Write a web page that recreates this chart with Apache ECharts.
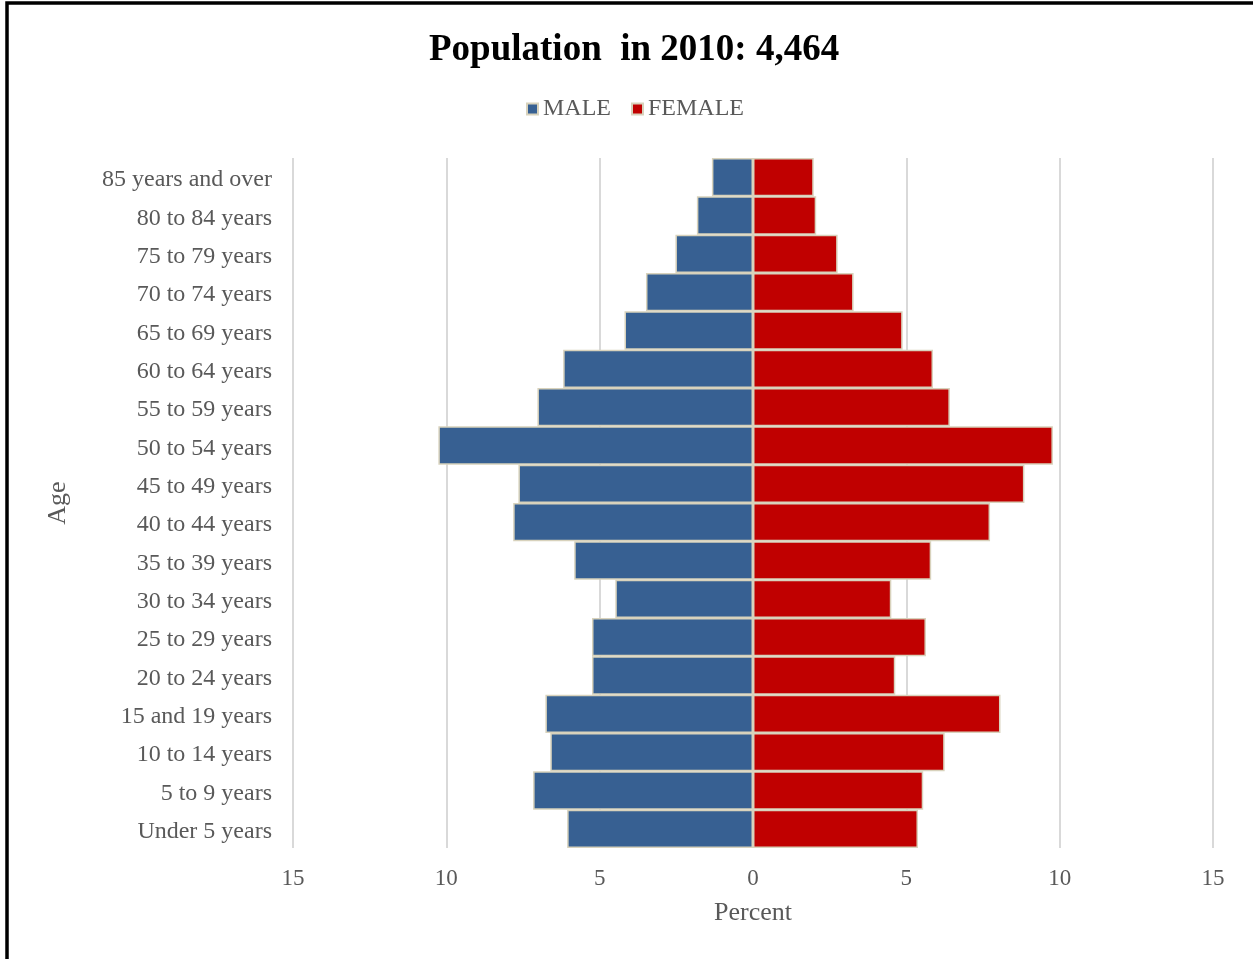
<!DOCTYPE html>
<html>
<head>
<meta charset="utf-8">
<title>Population in 2010</title>
<script src="https://cdn.jsdelivr.net/npm/echarts@6/dist/echarts.min.js"></script>
<style>
  html, body { margin: 0; padding: 0; background: #ffffff; }
  #chart { width: 1253px; height: 959px; }
</style>
</head>
<body>
<div id="chart"></div>
<script>
// Age groups, bottom to top
const ageGroups = [
  'Under 5 years', '5 to 9 years', '10 to 14 years', '15 and 19 years',
  '20 to 24 years', '25 to 29 years', '30 to 34 years', '35 to 39 years',
  '40 to 44 years', '45 to 49 years', '50 to 54 years', '55 to 59 years',
  '60 to 64 years', '65 to 69 years', '70 to 74 years', '75 to 79 years',
  '80 to 84 years', '85 years and over'
];

// Share of each sex in every age group (percent)
const malePercent = [
  6.06, 7.17, 6.61, 6.77, 5.25, 5.25, 4.49, 5.83, 7.82,
  7.65, 10.26, 7.03, 6.19, 4.19, 3.49, 2.53, 1.83, 1.34
];
const femalePercent = [
  5.38, 5.55, 6.25, 8.07, 4.64, 5.64, 4.51, 5.81, 7.73,
  8.85, 9.78, 6.42, 5.87, 4.88, 3.28, 2.76, 2.06, 1.98
];

const percentTicks = [-15, -10, -5, 0, 5, 10, 15];

const serif = '"Liberation Serif", "Times New Roman", serif';
const chart = echarts.init(document.getElementById('chart'), null, { renderer: 'canvas' });

chart.setOption({
  backgroundColor: '#ffffff',
  animation: false,
  title: {
    text: 'Population  in 2010: 4,464',
    left: 424,
    top: 27,
    textStyle: { fontFamily: serif, fontWeight: 'bold', fontSize: 37, color: '#000000' }
  },
  legend: {
    data: ['MALE', 'FEMALE'],
    top: 92,
    left: 521,
    icon: 'rect',
    itemWidth: 11,
    itemHeight: 11,
    itemGap: 20,
    textStyle: { fontFamily: serif, fontSize: 24, color: '#595959' }
  },
  grid: { left: 293, right: 40, top: 158, bottom: 111, containLabel: false },
  xAxis: {
    type: 'value',
    min: percentTicks[0],
    max: percentTicks[percentTicks.length - 1],
    interval: 5,
    name: 'Percent',
    nameLocation: 'middle',
    nameGap: 52,
    nameTextStyle: { fontFamily: serif, fontSize: 26, color: '#595959' },
    axisLine: { show: false },
    axisTick: { show: false },
    axisLabel: {
      margin: 19,
      fontFamily: serif,
      fontSize: 23,
      color: '#595959',
      formatter: v => String(Math.abs(v))
    },
    splitLine: {
      show: true,
      lineStyle: { color: '#d9d9d9', width: 2 }
    }
  },
  yAxis: {
    type: 'category',
    data: ageGroups,
    name: 'Age',
    nameLocation: 'middle',
    nameGap: 222,
    nameRotate: 90,
    nameTextStyle: { fontFamily: serif, fontSize: 26, color: '#595959' },
    axisLine: { show: false },
    axisTick: { show: false },
    splitLine: { show: false },
    axisLabel: {
      margin: 21,
      color: '#595959',
      formatter: v => '{age|' + v + '}',
      rich: {
        age: { fontFamily: serif, fontSize: 24, color: '#595959', padding: [6, 0, 0, 0] }
      }
    }
  },
  series: [
    {
      name: 'MALE',
      type: 'bar',
      stack: 'pyramid',
      barCategoryGap: '0%',
      data: malePercent.map(v => -v),
      itemStyle: { color: '#376092', borderColor: '#d8d2bc', borderWidth: 1.5 }
    },
    {
      name: 'FEMALE',
      type: 'bar',
      stack: 'pyramid',
      barCategoryGap: '0%',
      data: femalePercent,
      itemStyle: { color: '#c00000', borderColor: '#d8d2bc', borderWidth: 1.5 }
    }
  ],
  graphic: [
    {
      type: 'rect',
      shape: { x: 7, y: 3, width: 1300, height: 1000 },
      style: { fill: 'none', stroke: '#000000', lineWidth: 3.5 },
      silent: true,
      z: 100
    }
  ]
});
</script>
</body>
</html>
